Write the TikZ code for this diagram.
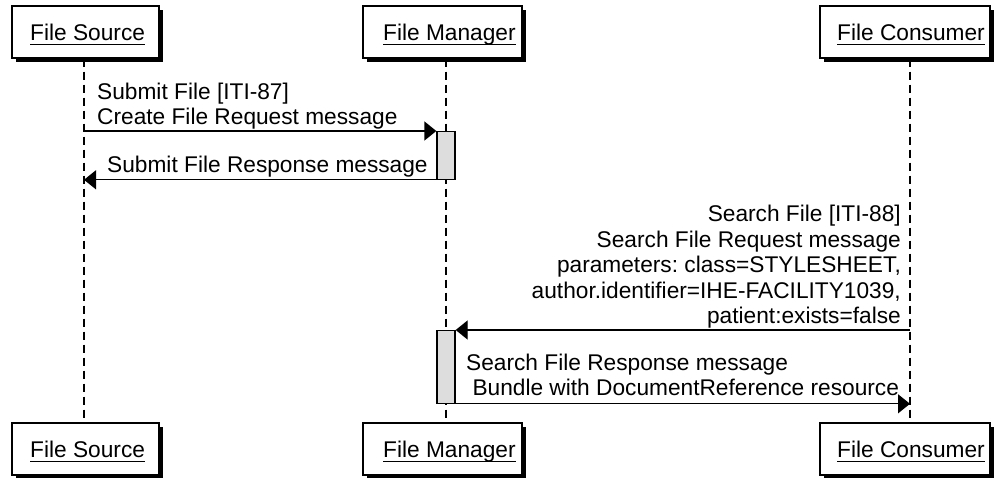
\documentclass[tikz,border=0pt]{standalone}
\usepackage{fontspec}
\setmainfont{Liberation Sans}
\usetikzlibrary{arrows.meta,shadows}
\definecolor{actgray}{HTML}{DDDDDD}
\newsavebox\ulbox
\newcommand\ulin[1]{\sbox\ulbox{#1}\rlap{\rule[-4.2pt]{\wd\ulbox}{1.3pt}}\usebox\ulbox}
\newcommand\fsz{\fontsize{22.7}{25.5}\selectfont\frenchspacing}
\newcommand\dpt{\rule[-6pt]{0pt}{0pt}}
\begin{document}
\begin{tikzpicture}[x=1pt,y=-1pt,
  every node/.style={inner sep=0pt},
  pbox/.style={draw=black, line width=1.4pt, fill=white, minimum height=52pt,
    drop shadow={shadow xshift=4pt,shadow yshift=-4pt,opacity=1,fill=black}},
  ptext/.style={font=\fsz, anchor=base west},
  life/.style={line width=1.3pt, dash pattern=on 8pt off 5pt},
  actbox/.style={draw=black, line width=1.3pt, fill=actgray, minimum width=18pt, anchor=north},
  msgline/.style={line width=1.3pt, -{Triangle[length=12pt,width=19pt]}},
  msgtext/.style={font=\fsz, align=left},
  msgtextr/.style={font=\fsz, align=right},
]
\useasboundingbox (0,0) rectangle (996,477);
% lifeline x positions
\coordinate (xs) at (84,0);
\coordinate (xm) at (446,0);
\coordinate (xc) at (910,0);
% participant boxes
\node[pbox, minimum width=147pt] (srcTop) at (85.5,32) {};
\node[pbox, minimum width=159pt] (mgrTop) at (442.5,32) {};
\node[pbox, minimum width=170pt] (conTop) at (905,32) {};
\node[pbox, minimum width=147pt] (srcBot) at (85.5,449) {};
\node[pbox, minimum width=159pt] (mgrBot) at (442.5,449) {};
\node[pbox, minimum width=170pt] (conBot) at (905,449) {};
\node[ptext] (srcTopL) at (30,40.7) {\ulin{File Source}};
\node[ptext] (mgrTopL) at (383,40.7) {\ulin{File Manager}};
\node[ptext] (conTopL) at (837,40.7) {\ulin{File Consumer}};
\node[ptext] (srcBotL) at (30,457.7) {\ulin{File Source}};
\node[ptext] (mgrBotL) at (383,457.7) {\ulin{File Manager}};
\node[ptext] (conBotL) at (837,457.7) {\ulin{File Consumer}};
% lifelines
\draw[life] (xs |- srcTop.south) -- (xs |- srcBot.north);
\draw[life] (xm |- mgrTop.south) -- (xm |- mgrBot.north);
\draw[life] (xc |- conTop.south) -- (xc |- conBot.north);
% activations
\node[actbox, minimum height=47.5pt] (act1) at (446,131) {};
\node[actbox, minimum height=72.5pt] (act2) at (446,330) {};
% messages
\draw[msgline] (xs |- act1.north) -- (act1.north west);
\node[msgtext, anchor=south west] (m1) at (97,131) {Submit File [ITI-87]\\Create File Request message\dpt};
\draw[msgline] (act1.south west) -- (xs |- act1.south);
\node[msgtext, anchor=south west] (m2) at (107,179) {Submit File Response message\dpt};
\draw[msgline] (xc |- act2.north) -- (act2.north east);
\node[msgtextr, anchor=south east] (m3) at (901,330) {Search File [ITI-88]\\Search File Request message\\parameters: class=STYLESHEET,\\author.identifier=IHE-FACILITY1039,\\patient:exists=false\dpt};
\draw[msgline] (act2.south east) -- (xc |- act2.south);
\node[msgtext, anchor=south west] (m4) at (466,402) {Search File Response message\\\hspace*{0.278em}Bundle with DocumentReference resource\dpt};
\end{tikzpicture}
\end{document}
